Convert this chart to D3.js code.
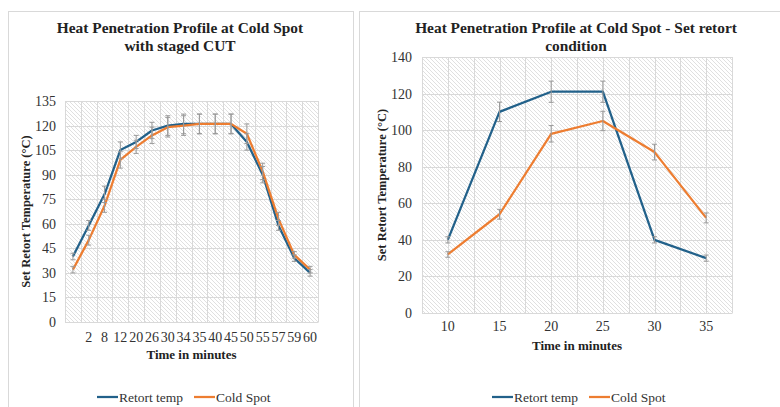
<!DOCTYPE html>
<html>
<head>
<meta charset="utf-8">
<script src="https://cdn.jsdelivr.net/npm/d3@7"></script>
<style>
  body { margin: 0; background: #fff; }
  svg { display: block; font-family: "Liberation Serif", "Times New Roman", serif; }
</style>
</head>
<body>
<div id="chart"></div>
<script>
// left chart: staged CUT
const stagedTimes = ["", "2", "8", "12", "20", "26", "30", "34", "35", "40", "45", "50", "55", "57", "59", "60"];
const stagedRetort = [40, 59, 78, 105, 110, 117, 120, 121, 121, 121, 121, 110, 90, 59, 39, 30];
const stagedRetortErr = [2, 3, 5, 5, 4, 5, 6, 6, 6, 6, 6, 5, 5, 3, 2, 2];
const stagedCold = [32, 50, 71, 99, 107, 114, 119, 120, 121, 121, 121, 115, 92, 63, 41, 32];
const stagedColdErr = [2, 3, 4, 5, 4, 5, 6, 6, 6, 6, 6, 6, 5, 4, 2, 2];
const stagedYTicks = [0, 15, 30, 45, 60, 75, 90, 105, 120, 135];

// right chart: set retort condition
const setTimes = ["10", "15", "20", "25", "30", "35"];
const setRetort = [40, 110, 121, 121, 40, 30];
const setRetortErr = [1.7, 5.3, 5.8, 5.8, 1.7, 1.7];
const setCold = [32, 54, 98, 105, 88, 52];
const setColdErr = [1.5, 2.7, 4.5, 5.3, 4.3, 2.7];
const setYTicks = [0, 20, 40, 60, 80, 100, 120, 140];

const seriesNames = ["Retort temp", "Cold Spot"];
const blue = "#22618a", orange = "#ed7d31";

const svg = d3.select("#chart").append("svg")
    .attr("width", 780)
    .attr("height", 407);

// diagonal hatch used as plot background
const defs = svg.append("defs");
const pat = defs.append("pattern")
    .attr("id", "hatch")
    .attr("patternUnits", "userSpaceOnUse")
    .attr("width", 4)
    .attr("height", 4);
pat.append("rect").attr("width", 4).attr("height", 4).attr("fill", "#fff");
pat.append("path")
    .attr("d", "M-1,-1L5,5M3,-1L5,1M-1,3L1,5")
    .attr("stroke", "#e0e0e0")
    .attr("stroke-width", 1);

function drawChart(cfg) {
    // panel frame
    svg.append("rect")
        .attr("x", cfg.panel[0] + 0.5).attr("y", 11.5)
        .attr("width", cfg.panel[1]).attr("height", 420)
        .attr("fill", "none").attr("stroke", "#d9d9d9");

    const g = svg.append("g");

    const x = d3.scaleBand()
        .domain(d3.range(cfg.labels.length))
        .range([cfg.left, cfg.right])
        .padding(0);
    const y = d3.scaleLinear()
        .domain([0, d3.max(cfg.yTicks)])
        .range([cfg.bottom, cfg.top]);
    const cx = i => x(i) + x.bandwidth() / 2;

    g.append("rect")
        .attr("x", cfg.left).attr("y", cfg.top)
        .attr("width", cfg.right - cfg.left).attr("height", cfg.bottom - cfg.top)
        .attr("fill", "url(#hatch)");

    // horizontal gridlines
    g.selectAll(".hgrid").data(cfg.yTicks).join("line")
        .attr("x1", cfg.left).attr("x2", cfg.right)
        .attr("y1", d => Math.round(y(d)) + 0.5).attr("y2", d => Math.round(y(d)) + 0.5)
        .attr("stroke", "#d9d9d9");

    // vertical gridlines
    let vx = [];
    const n = cfg.labels.length;
    for (let i = 0; i <= n; i++) {
        vx.push(x(i) === undefined ? cfg.right : x(i));
        if (cfg.halfGrid && i < n) vx.push(cx(i));
    }
    g.selectAll(".vgrid").data(vx).join("line")
        .attr("x1", d => Math.round(d) + 0.5).attr("x2", d => Math.round(d) + 0.5)
        .attr("y1", cfg.top).attr("y2", cfg.bottom)
        .attr("stroke", "#d9d9d9");

    // y axis
    const yAxis = g.append("g")
        .attr("transform", `translate(${cfg.left},0)`)
        .call(d3.axisLeft(y).tickValues(cfg.yTicks).tickSize(0).tickPadding(cfg.yPad));
    yAxis.attr("font-family", "Liberation Serif").attr("font-size", 14);
    yAxis.select(".domain").remove();
    yAxis.selectAll("text").attr("fill", "#333");

    // x axis
    const xAxis = g.append("g")
        .attr("transform", `translate(0,${cfg.bottom})`)
        .call(d3.axisBottom(x).tickFormat(i => cfg.labels[i]).tickSize(0).tickPadding(cfg.xPad));
    xAxis.attr("font-family", "Liberation Serif").attr("font-size", 14);
    xAxis.select(".domain").attr("stroke", "#d9d9d9");
    xAxis.selectAll("text").attr("fill", "#333");

    // series lines
    const line = d3.line().x((d, i) => cx(i)).y(d => y(d));
    const series = [
        {vals: cfg.retort, err: cfg.retortErr, color: blue},
        {vals: cfg.cold, err: cfg.coldErr, color: orange}
    ];

    series.forEach(s => {
        g.append("path")
            .datum(s.vals)
            .attr("d", line)
            .attr("fill", "none")
            .attr("stroke", s.color)
            .attr("stroke-width", 2.25)
            .attr("stroke-linejoin", "round");
    });

    // error bars on top
    series.forEach(s => {
        const eb = g.append("g").attr("stroke", "#9a9a9a").attr("stroke-width", 1);
        s.vals.forEach((v, i) => {
            const xc = cx(i), y1 = y(v + s.err[i]), y2 = y(v - s.err[i]);
            eb.append("line").attr("x1", xc).attr("x2", xc).attr("y1", y1).attr("y2", y2);
            eb.append("line").attr("x1", xc - 2.5).attr("x2", xc + 2.5).attr("y1", y1).attr("y2", y1);
            eb.append("line").attr("x1", xc - 2.5).attr("x2", xc + 2.5).attr("y1", y2).attr("y2", y2);
        });
    });

    // title
    const t = g.append("text")
        .attr("x", cfg.titleX).attr("y", 33)
        .attr("text-anchor", "middle")
        .attr("font-size", 15.4).attr("font-weight", "bold").attr("fill", "#222");
    cfg.title.forEach((ln, i) => {
        t.append("tspan").attr("x", cfg.titleX).attr("dy", i === 0 ? 0 : 17.5).text(ln);
    });

    // axis titles
    g.append("text")
        .attr("x", (cfg.left + cfg.right) / 2).attr("y", cfg.xTitleY)
        .attr("text-anchor", "middle")
        .attr("font-size", 13).attr("font-weight", "bold").attr("fill", "#222")
        .text("Time in minutes");

    g.append("text")
        .attr("transform", `translate(${cfg.yTitleX},${(cfg.top + cfg.bottom) / 2}) rotate(-90)`)
        .attr("text-anchor", "middle")
        .attr("font-size", 12.5).attr("font-weight", "bold").attr("fill", "#222")
        .text("Set Retort Temperature (°C)");

    // legend
    const lg = g.append("g").attr("transform", `translate(${cfg.legendX},397)`);
    [blue, orange].forEach((c, i) => {
        const ox = i * 97;
        lg.append("line").attr("x1", ox).attr("x2", ox + 21).attr("y1", 0).attr("y2", 0)
            .attr("stroke", c).attr("stroke-width", 2.25);
        lg.append("text").attr("x", ox + 22).attr("y", 5)
            .attr("font-size", 13.5).attr("fill", "#333")
            .text(seriesNames[i]);
    });
}

drawChart({
    panel: [8, 345],
    labels: stagedTimes, retort: stagedRetort, retortErr: stagedRetortErr,
    cold: stagedCold, coldErr: stagedColdErr, yTicks: stagedYTicks,
    left: 65, right: 318, top: 101, bottom: 322,
    halfGrid: false, yPad: 9, xPad: 10,
    title: ["Heat Penetration Profile at Cold Spot", "with staged CUT"], titleX: 180,
    xTitleY: 359, yTitleX: 30, legendX: 97
});

drawChart({
    panel: [359, 440],
    labels: setTimes, retort: setRetort, retortErr: setRetortErr,
    cold: setCold, coldErr: setColdErr, yTicks: setYTicks,
    left: 422, right: 732, top: 57, bottom: 313,
    halfGrid: true, yPad: 10, xPad: 8.5,
    title: ["Heat Penetration Profile at Cold Spot - Set retort", "condition"], titleX: 576,
    xTitleY: 350, yTitleX: 386, legendX: 492
});
</script>
</body>
</html>
